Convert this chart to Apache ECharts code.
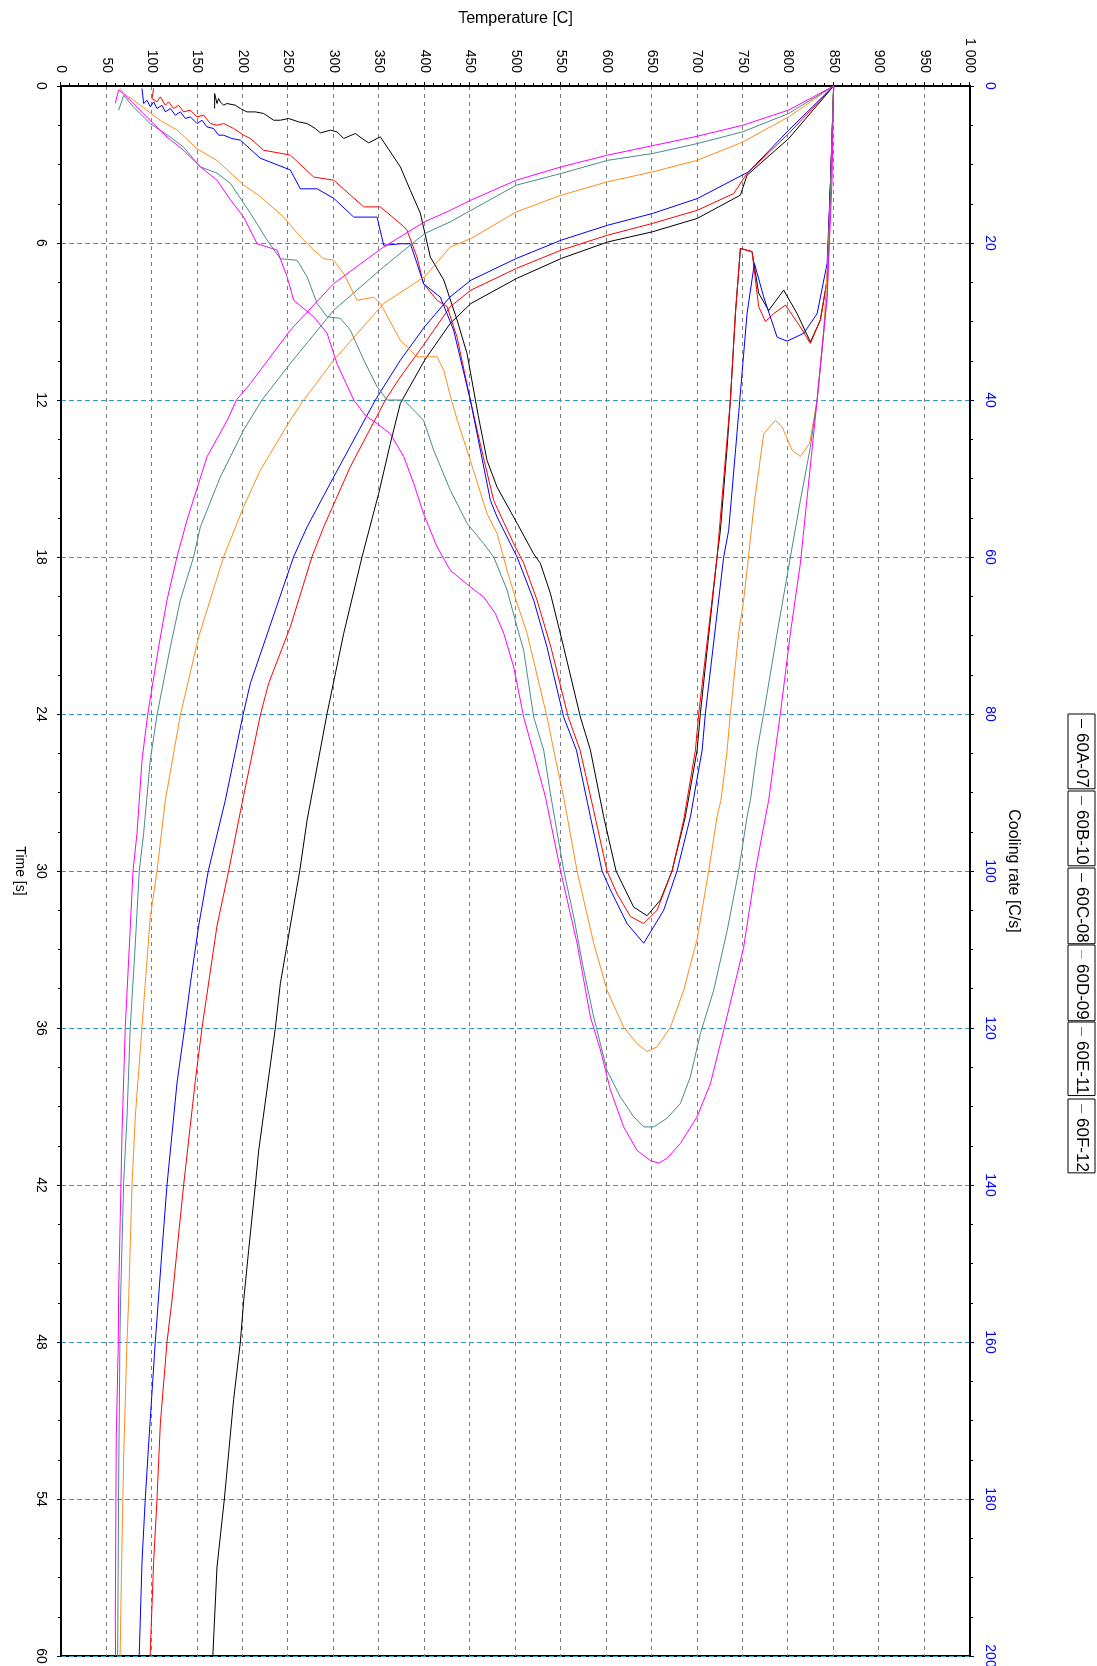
<!DOCTYPE html>
<html>
<head>
<meta charset="utf-8">
<title>Cooling curves and cooling rate</title>
<script src="https://cdn.jsdelivr.net/npm/echarts@6.0.0/dist/echarts.min.js"></script>
<style>
html, body { margin: 0; width: 1097px; height: 1666px; overflow: hidden; background: #fff; }
/* the chart is drawn landscape and turned a quarter turn clockwise */
#target { position: absolute; left: 0; top: 0; width: 1666px; height: 1097px;
          transform-origin: 0 0; transform: translate(1097px, 0) rotate(90deg); }
</style>
</head>
<body>
<div id="target"></div>
<script>
// sample names and colours
const names = ['60A-07', '60B-10', '60C-08', '60D-09', '60E-11', '60F-12'];
const colors = ['#000000', '#ff0000', '#0000ff', '#ff8c1a', '#4a8a8a', '#ff00ff'];

// temperature vs time, [time s, temp C]
const coolA = [[0,850],[2.01,800.5],[3.41,754.7],[4.17,747.4],[5.06,700],[5.57,650.9],[5.96,601.4],[6.59,550.4],[7.36,500.9],[8.31,451],[9.08,428],[10.48,400],[12.13,373.3],[13.66,362.3],[15.57,349.5],[17.99,331.2],[20.92,311],[23.98,292.7],[28.06,270.7],[30,262.6],[34.3,241.3],[36,235.8],[40.7,217.4],[42,213.8],[44.5,206.4],[46.4,201],[48,197.3],[50.2,189.9],[54,179.7],[56.6,171.6],[60,167]];
const coolB = [[0,850],[1.82,800.5],[3.34,754.7],[4.11,740],[4.75,700],[5.25,650.9],[5.7,601.4],[6.27,550.4],[6.97,501],[7.8,451],[8.44,428],[9.84,400],[11.12,373.3],[12,356.8],[14.55,318.3],[16.85,289],[17.99,276.1],[20.67,252.3],[22.83,228.4],[24.04,219.3],[27.42,199.1],[30,184.4],[32.1,171.6],[36,155.1],[38,147.8],[42,134.9],[44.5,127.6],[46.4,122.1],[48,116.6],[51.1,109.3],[54,105.6],[56.4,101.9],[60,98]];
const coolC = [[0,850],[1.69,800.5],[3.28,756.5],[4.3,700],[4.87,650.9],[5.32,601.4],[5.89,550.4],[6.59,501],[7.42,451],[8.06,428],[9.2,400],[10.48,373.3],[12,345.8],[14.94,300],[16.85,270.7],[17.99,255.9],[20.41,232.1],[22.83,208.3],[24.04,200.2],[27.29,180.8],[30,162],[32.1,151.4],[34.3,142.3],[36,136],[38.1,127.6],[42,116.6],[44.5,111.1],[48,103.7],[51.9,96.4],[54,92.7],[56.4,89.1],[60,86]];
const coolD = [[0,850],[1.18,800.5],[2.14,750],[2.84,700],[3.28,650.9],[3.66,601.4],[4.17,550.4],[4.81,501],[5.83,451],[6.15,428.3],[7.29,400],[8.31,355],[10.48,300],[12,267],[12.77,252.3],[14.68,219.3],[16.08,200.9],[17.99,178.9],[21.05,151.4],[24.04,131.3],[27.29,114.8],[30,105.6],[31.75,98.2],[35.95,89.1],[39.4,81.7],[42,78.1],[46.4,74.4],[48,72.6],[52.4,68.9],[57.2,66.3],[60,65]];
const coolE = [[0,850],[1.05,800.5],[1.75,750],[2.2,700],[2.58,650.9],[2.84,601.4],[3.34,550.4],[3.79,501],[4.75,451],[5.19,428.3],[5.64,400],[6.91,355],[8.57,300],[10.6,252.3],[12,221.1],[13.15,200.9],[14.94,175.3],[16.85,153.3],[17.99,145.9],[19.65,131.3],[21.43,120.3],[24.04,105.6],[25.76,98.2],[28.56,90.9],[30,86.1],[32.8,81.7],[35.95,76.2],[39.4,72.6],[41.9,68.9],[46.4,65.5],[48,64.8],[53.4,63.4],[60,62.3]];
const coolF = [[0,850],[0.92,800.5],[1.5,750],[1.92,700],[2.28,650.9],[2.64,601.4],[3.09,550.4],[3.6,501],[4.36,451],[4.75,428.3],[5.19,400],[6.15,355],[7.55,300],[9.33,252.3],[11.37,208.3],[12,193],[12.77,183],[14.17,160.6],[16.59,138.6],[17.99,127.6],[19.65,116.6],[21.43,107.4],[24.04,95.3],[25.76,89.1],[28.56,83.6],[30,79.2],[33.4,74.4],[35.95,70.7],[40,67.1],[43.2,65.2],[46.1,63.4],[48,63],[51.6,60.8],[58.5,59.7],[60,60]];

// cooling rate vs temperature, [rate C/s, temp C]
const rateA = [[0,850],[12,846.6],[24.7,842.8],[29.8,835.4],[32.6,824.4],[29,809.8],[26,795],[28.6,778.5],[26.4,767.5],[21.1,760.2],[20.7,747.4],[29,741.9],[40,736.4],[46,732.8],[56.6,725.4],[60,721.7],[79.9,703.4],[84.6,699.8],[93.1,686.8],[100,672.2],[103.7,659.4],[105.7,644.7],[104.6,630],[100,610.6],[93.1,597],[84.6,582.4],[80.4,571.4],[71.5,553],[64.6,538.3],[60.8,527.3],[59.6,520],[55.7,501.7],[51.1,479.7],[47.7,468.7],[42,459],[34.1,446.7],[29.8,435.7],[24.7,421],[21.8,406.3],[16.2,395.3],[13.3,384.3],[10.3,373.3],[6.48,351.3],[7.24,338.4],[6.69,331.2],[6.05,323.8],[6.69,311],[5.84,303.7],[5.63,296.3],[5.97,285.3],[5.42,279.8],[4.78,270.7],[4.57,261.4],[4.14,250.4],[4.36,241.3],[4.36,233.9],[3.5,222.9],[3.3,213.8],[3.3,204.6],[2.87,197.3],[2.45,191.8],[2.23,182.6],[2.45,178.9],[2.03,175.3],[1.59,173.4],[2.23,171.6],[0.96,169],[2.87,169]];
const rateB = [[0,850],[12,846.6],[24.7,842.8],[29.8,835.4],[32.8,824.4],[30.7,813.4],[27.9,797],[29,784],[30,774.9],[28.1,767.5],[21.1,760.2],[20.7,747.4],[29,741.9],[40,736.4],[60,721.7],[80,701.5],[84.6,697.9],[93.5,685],[100,672.2],[105,655.7],[106.7,641],[105.8,626.4],[102.9,611.7],[100,600.7],[92.3,586],[84.6,571],[80.4,558],[71.5,539],[65.5,523.7],[60.8,509],[58.3,498],[52.8,476],[46,462],[40,450.3],[32,435.7],[28.1,424.7],[27.3,413.7],[25.2,398.9],[21.8,391.6],[18.4,380.7],[17.9,377],[15.4,351.3],[15.4,333],[12,300],[11.6,278],[8.8,252.3],[8.18,222.9],[6.69,208.3],[6.27,200.9],[5.42,190],[4.78,178.9],[5,171.6],[4.78,164.3],[3.72,156.9],[3.93,149.6],[3.08,142.3],[3.29,134.9],[2.45,129.4],[2.87,123.9],[2.02,118.4],[2.45,114.8],[1.38,109.3],[2.02,105.6],[1.6,100.1],[0.32,101.9]];
const rateC = [[0,850],[12,846.6],[22.6,842.8],[29,831.8],[31.5,817.1],[32.5,798.8],[32,787.8],[26.9,773.1],[22.6,762.8],[29,754.7],[41.7,745.5],[56.6,734.5],[60,729],[79.9,708.9],[84.6,705.3],[93.1,692.4],[100,677.7],[105,663],[109.2,641],[106.7,622.7],[102.4,604.4],[100,595.2],[93.1,582.4],[84.6,567],[80.4,553],[71.5,534.7],[65.5,520],[60,501.7],[54.9,479.7],[52.8,472.4],[40,450.3],[31.1,431.9],[26.9,417.3],[25.2,398.9],[22.6,391.6],[20.1,384.3],[20.1,373.3],[20.3,355],[16.7,347.7],[16.7,322],[14.3,300],[13.1,281.7],[13.1,263.3],[10.7,252.3],[9.2,219.3],[6.9,197.3],[6.69,188.1],[6.27,178.9],[6.27,173.4],[5.42,168],[5.21,160.6],[4.36,155.1],[4.78,149.6],[3.93,142.3],[4.14,136.8],[3.29,131.3],[3.72,125.8],[2.87,120.3],[3.29,114.8],[2.45,111.1],[2.87,105.6],[2.02,101.9],[2.66,98.3],[1.81,94.6],[2.23,90.9],[0.32,89.1]];
const rateD = [[0,850],[12,847.1],[22.6,843.4],[31.1,839],[40,831.8],[45.5,823.6],[47.2,813.4],[46.4,804.3],[43.4,793.3],[42.6,785.8],[44.3,773.1],[52.8,763],[65.5,751],[69.7,745.5],[79.9,736.4],[84.6,732.8],[91,726],[93.1,721.7],[100,712.5],[108.7,699.8],[115.2,685],[119.9,670.4],[122.4,655.7],[123,644.7],[122,633.7],[119.9,619],[115.2,600.7],[109.2,586],[100,567.7],[90.6,553],[84.6,542],[80.4,534.7],[69.7,512.7],[65.9,501.7],[61.7,490.7],[57,479.7],[54.5,468.7],[47.7,450.3],[42.6,436],[39.5,428.3],[36.2,421],[34.5,413.7],[34.5,391.6],[33.2,380.7],[32.4,373.3],[27.7,351.3],[26.9,344],[27.3,325.7],[23.9,311],[22.2,300],[22,289],[20.9,278],[19.2,263.3],[16.7,245],[14.1,219.3],[12.6,200.9],[9.5,171.6],[8,149.6],[5.6,127.6],[4.4,109.3],[3.1,94.6],[1.8,79.9],[1,68.9],[0.3,65]];
const rateE = [[0,850],[12,847.1],[26.9,842.8],[40,831.8],[46,824.4],[52.8,813.4],[60,802.4],[69.7,787.8],[79.9,773.1],[84.6,765.8],[91,758.4],[93.1,754.7],[100,745.5],[107.6,732.8],[115.2,718],[120.7,703.4],[126.2,692.4],[129.6,681.4],[131.5,666.7],[132.6,652],[132.6,641],[131.3,630],[128.8,615.4],[125.4,600.7],[118.6,586],[112.6,575],[105.8,564],[99.9,553],[90.1,538.3],[84.6,531],[80.4,520],[71.9,509],[68.9,501.7],[64.2,490.7],[60,476],[58.3,465],[55.7,446.7],[51.5,428.3],[46.4,410],[42.6,398.9],[41.7,391.6],[40,377],[40,358.7],[38.3,347.7],[34.9,333],[31.1,318.3],[29.6,307.3],[29.4,292.7],[27.7,281.7],[24.3,270.7],[22.2,259.7],[22,241.3],[19.6,226.6],[16.2,208.3],[12.4,186.3],[11.1,171.6],[10.3,153.3],[7.8,134.9],[6.5,120.3],[4.8,98.2],[2.7,79.9],[1.2,68.9],[3.1,63.4]];
const rateF = [[0,850],[12,848.2],[26.9,842.8],[40,831.8],[56.6,817.1],[60.8,813.4],[69.7,802.4],[79.9,791.4],[84.6,785.9],[91,778.5],[93.1,775],[99.9,764],[109.7,751],[120.3,729],[127.1,714.4],[131.3,699.8],[134.7,681.4],[136.6,666.7],[137.2,657.5],[136.9,648.4],[135.6,633.7],[132.6,619],[127.9,604.4],[122.8,593.4],[118.6,582.4],[109.2,567.7],[99.9,549.4],[90.6,533],[84.6,519],[80.4,509],[74,498],[69.7,487],[67.2,477.8],[65.1,465],[63.8,450.3],[61.7,428.3],[58.7,413.7],[54.5,398.9],[50.6,387.9],[47.2,377],[44.3,362.3],[43,347.7],[42,335],[40,322],[35.4,303.7],[31.5,292.7],[29.4,278],[27.3,256],[24.3,248.7],[20.9,237.7],[20.5,226.6],[20.1,215.7],[16.7,200.9],[14.5,186.3],[12,171.6],[10.3,153.3],[8.2,134.9],[6.5,116.6],[4.4,98.2],[2.7,83.6],[1,68.9],[0.5,63.4],[2.2,59.7]];

const coolCurves = [coolA, coolB, coolC, coolD, coolE, coolF];
const rateCurves = [rateA, rateB, rateC, rateD, rateE, rateF];

const font = 'Liberation Sans, Arial, sans-serif';

let chart = echarts.init(document.getElementById('target'));

let series = [];
names.forEach((name, i) => {
    series.push({
        name: name, type: 'line', xAxisIndex: 0, data: coolCurves[i],
        showSymbol: false, lineStyle: { color: colors[i], width: 1 }, itemStyle: { color: colors[i] },
    });
    series.push({
        name: name, type: 'line', xAxisIndex: 1, data: rateCurves[i],
        showSymbol: false, lineStyle: { color: colors[i], width: 1 }, itemStyle: { color: colors[i] },
    });
});

// one boxed legend per sample, boxes touching so they look like one strip
let legends = names.map((name, i) => ({
    data: [name],
    left: 714 + i * 77,
    top: 2,
    icon: 'rect',
    itemWidth: 9,
    itemHeight: 1,
    itemGap: 0,
    itemTextGap: 5,
    padding: [5, 1, 5, 5],
    borderColor: '#000',
    borderWidth: 1,
    selectedMode: false,
    formatter: n => '{t|' + n + '}',
    textStyle: {
        fontFamily: font, fontSize: 17, color: '#000',
        rich: { t: { width: 57, fontFamily: font, fontSize: 17, color: '#000' } },
    },
}));

let option = {
    animation: false,
    backgroundColor: '#fff',
    legend: legends,
    grid: {
        left: 86, right: 10, top: 127, bottom: 61,
        show: true, borderColor: '#000', borderWidth: 2,
        outerBoundsMode: 'none',
    },
    xAxis: [
        {
            type: 'value', position: 'bottom', min: 0, max: 60, interval: 6,
            name: 'Time [s]', nameLocation: 'middle', nameGap: 34,
            nameTextStyle: { fontFamily: font, fontSize: 14, color: '#000' },
            axisLine: { show: true, lineStyle: { color: '#000', width: 2 } },
            axisTick: { show: true, length: 4, lineStyle: { color: '#000' } },
            minorTick: { show: true, splitNumber: 4, length: 3, lineStyle: { color: '#000' } },
            axisLabel: { fontFamily: font, fontSize: 14, color: '#000', margin: 13 },
            splitLine: { show: true, lineStyle: { color: '#3399cc', width: 1, type: [5, 3] } },
        },
        {
            type: 'value', position: 'top', min: 0, max: 200, interval: 20,
            name: 'Cooling rate [C/s]', nameLocation: 'middle', nameGap: 35,
            nameTextStyle: { fontFamily: font, fontSize: 16, color: '#000' },
            axisLine: { show: true, lineStyle: { color: '#000', width: 2 } },
            axisTick: { show: true, length: 4, lineStyle: { color: '#000' } },
            minorTick: { show: true, splitNumber: 4, length: 3, lineStyle: { color: '#000' } },
            axisLabel: { fontFamily: font, fontSize: 14, color: '#0000ff', margin: 13 },
            splitLine: { show: false },
        },
    ],
    yAxis: {
        type: 'value', min: 0, max: 1000, interval: 50,
        name: 'Temperature [C]', nameLocation: 'middle', nameGap: 57,
        nameTextStyle: { fontFamily: font, fontSize: 16, color: '#000' },
        axisLine: { show: true, lineStyle: { color: '#000', width: 2 } },
        axisTick: { show: true, length: 4, lineStyle: { color: '#000' } },
        minorTick: { show: true, splitNumber: 5, length: 3, lineStyle: { color: '#000' } },
        axisLabel: {
            fontFamily: font, fontSize: 14, color: '#000', margin: 13,
            formatter: v => String(v).replace(/\B(?=(\d{3})+(?!\d))/g, ' '),
        },
        splitLine: { show: true, lineStyle: { color: '#808080', width: 1, type: [4, 4] } },
    },
    series: series,
};

chart.setOption(option);
</script>
</body>
</html>
